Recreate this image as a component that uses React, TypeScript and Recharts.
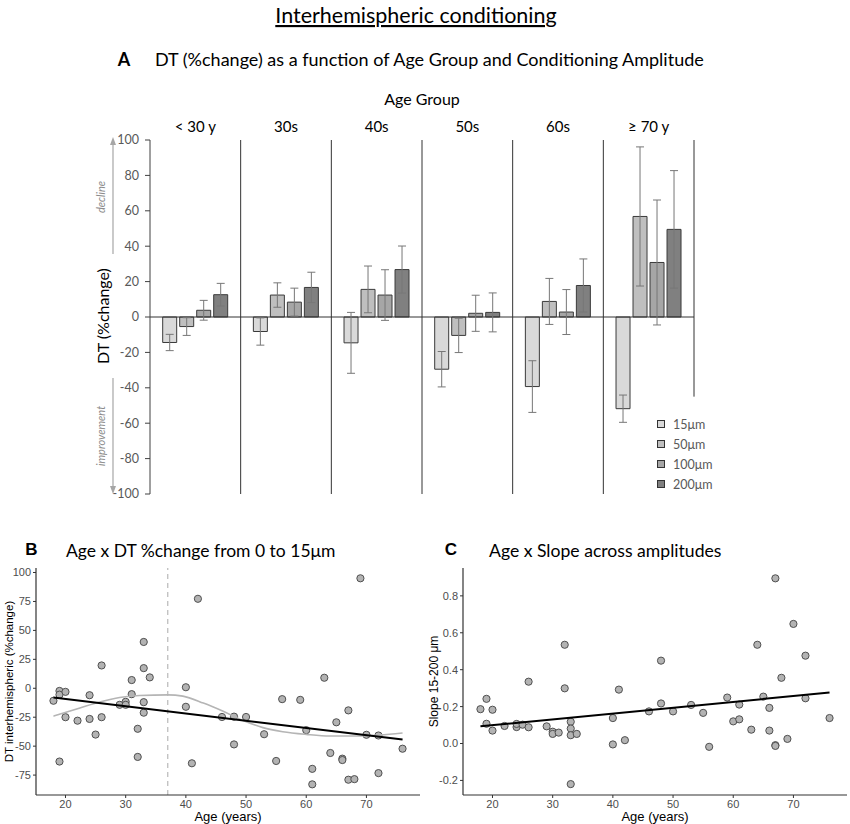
import React from 'react';
import {
  BarChart, Bar, ErrorBar, XAxis, YAxis, ReferenceLine, Legend,
  ScatterChart, Scatter,
} from 'recharts';

// ---------- Panel A data ----------
const ageGroups = ['< 30 y', '30s', '40s', '50s', '60s', '≥ 70 y'];
const amp15 = [-14.4, -8.2, -14.6, -29.5, -39.3, -51.8];
const err15 = [4.6, 7.7, 17.2, 10.0, 14.6, 7.7];
const amp50 = [-5.4, 12.4, 15.6, -10.4, 8.8, 56.8];
const err50 = [5.0, 6.9, 13.2, 9.7, 13.0, 39.3];
const amp100 = [3.8, 8.4, 12.4, 2.1, 2.8, 30.8];
const err100 = [5.6, 7.9, 14.3, 10.2, 12.7, 35.3];
const amp200 = [12.6, 16.7, 26.8, 2.6, 17.8, 49.5];
const err200 = [6.4, 8.6, 13.3, 11.0, 15.0, 33.2];
const ampNames = ['15μm', '50μm', '100μm', '200μm'];
const yTicksA = [-100, -80, -60, -40, -20, 0, 20, 40, 60, 80, 100];

// ---------- Panel B data ----------
const agesB = [18, 19, 19, 20, 20, 22, 24, 24, 25, 26, 26, 19, 29, 30, 30, 31, 31, 32, 32, 33, 33, 33, 33, 34,
  40, 40, 41, 42, 46, 48, 48, 50, 53, 55, 56, 59, 60, 61, 61, 63, 64, 65, 66, 66, 67, 67, 68, 69, 70, 72, 72, 76];
const dtB = [-10.8, -2.3, -5.5, -3.1, -25, -28, -6, -26.5, -40, 19.7, -25, -63.3, -14.3, -11.7, -14.3, 7.1, -5.1,
  -35, -59.3, 40, 17.4, -12, -21.1, 9.4, 0.9, -16, -64.8, 77.3, -24.8, -24.5, -48.5, -24.8, -39.7, -62.8, -9.4, -10,
  -36.2, -69.6, -83, 9.1, -55.9, -29.4, -60.8, -62, -19.1, -79, -78.5, 95, -40.2, -40.8, -73.3, -52.2];
const regAges = [18, 76];
const regB = [-8.0, -44.3];
const loessAges = [18, 22.4, 25.7, 29, 32.3, 37, 39.5, 42.9, 46.2, 49.5, 52.8, 56.1, 60, 63.9, 68.3, 72.2, 76];
const loessB = [-24.1, -17, -11.9, -8, -6.25, -5.7, -6.8, -12.8, -19.9, -27.8, -34, -37.5, -39.8, -41.2, -41.2, -40.3, -38.6];
const xTicks = [20, 30, 40, 50, 60, 70];
const yTicksB = [-75, -50, -25, 0, 25, 50, 75, 100];

// ---------- Panel C data ----------
const agesC = [18, 19, 19, 20, 20, 22, 24, 24, 25, 26, 26, 29, 30, 30, 31, 32, 32, 33, 33, 33, 33, 34, 40, 40, 41,
  42, 46, 48, 48, 50, 53, 55, 56, 59, 60, 61, 61, 63, 64, 65, 66, 66, 67, 67, 67, 68, 69, 70, 72, 72, 76];
const slopeC = [0.186, 0.242, 0.107, 0.183, 0.07, 0.095, 0.089, 0.106, 0.102, 0.335, 0.088, 0.093, 0.064, 0.052,
  0.059, 0.535, 0.299, 0.118, 0.081, 0.045, -0.22, 0.052, 0.138, -0.005, 0.292, 0.018, 0.174, 0.449, 0.217, 0.174,
  0.209, 0.166, -0.018, 0.249, 0.12, 0.211, 0.131, 0.075, 0.535, 0.254, 0.193, 0.07, 0.895, -0.009, -0.013, 0.356,
  0.025, 0.648, 0.476, 0.245, 0.138];
const regC = [0.093, 0.276];
const yTicksC = [-0.2, 0, 0.2, 0.4, 0.6, 0.8];

// ---------- built tables ----------
const dataA = ageGroups.map((g, i) => ({
  group: g,
  v15: amp15[i], e15: err15[i],
  v50: amp50[i], e50: err50[i],
  v100: amp100[i], e100: err100[i],
  v200: amp200[i], e200: err200[i],
}));
const ptsB = agesB.map((a, i) => ({ age: a, v: dtB[i] }));
const lineB = regAges.map((a, i) => ({ age: a, v: regB[i] }));
const smoothB = loessAges.map((a, i) => ({ age: a, v: loessB[i] }));
const ptsC = agesC.map((a, i) => ({ age: a, v: slopeC[i] }));
const lineC = regAges.map((a, i) => ({ age: a, v: regC[i] }));

const CAL = "Lato, 'Open Sans', sans-serif";
const ARI = "'Liberation Sans', Arial, sans-serif";
const barFills = ['#d9d9d9', '#bfbfbf', '#a6a6a6', '#808080'];

const Dot = (p: any) => (
  <circle cx={p.cx} cy={p.cy} r={3.6} fill="#b3b3b3" stroke="#505050" strokeWidth={1} />
);
const NoShape = () => <g />;

const renderLegend = (props: any) => {
  const payload = [...(props.payload || [])].sort(
    (a: any, b: any) => ampNames.indexOf(a.value) - ampNames.indexOf(b.value)
  );
  return (
    <div style={{ fontFamily: CAL }}>
      {payload.map((p: any) => (
        <div key={p.value} style={{ display: 'flex', alignItems: 'center', height: 20 }}>
          <span style={{ display: 'inline-block', width: 6, height: 6, background: barFills[ampNames.indexOf(p.value)], border: '1px solid #333', marginRight: 8 }} />
          <span style={{ fontSize: 12.5, color: '#595959' }}>{p.value}</span>
        </div>
      ))}
    </div>
  );
};

const ggTick = { fill: '#4d4d4d', fontSize: 11, fontFamily: ARI };

export default function App() {
  return (
    <div style={{ position: 'absolute', left: 0, top: 0, width: 850, height: 824, background: '#fff', overflow: 'hidden' }}>
      {/* Panel A */}
      <div style={{ position: 'absolute', left: 0, top: 0 }}>
        <BarChart width={850} height={520} data={dataA} margin={{ top: 90, right: 156, bottom: 26, left: 90 }}
          barCategoryGap="14%" barGap={3}>
          <XAxis dataKey="group" orientation="top" axisLine={false} tickLine={false} height={50}
            tick={{ fill: '#000', fontSize: 15, fontFamily: CAL }}
            label={{ value: 'Age Group', position: 'insideTop', offset: 4, style: { fill: '#000', fontSize: 16, fontFamily: CAL } }} />
          <YAxis domain={[-100, 100]} ticks={yTicksA} width={60} tickSize={5} tickMargin={6}
            axisLine={{ stroke: '#404040' }} tickLine={{ stroke: '#404040' }}
            tick={{ fill: '#595959', fontSize: 12.5, fontFamily: CAL }} interval={0} />
          {ageGroups.slice(1).map((g) => (
            <ReferenceLine key={g} x={g} position="start" stroke="#333" strokeWidth={1} />
          ))}
          <ReferenceLine segment={[{ x: ageGroups[5], y: 100 }, { x: ageGroups[5], y: -45 }]} position="end" stroke="#333" strokeWidth={1} />
          <ReferenceLine y={0} stroke="#333" strokeWidth={1} />
          <Bar dataKey="v15" name={ampNames[0]} fill={barFills[0]} stroke="#3a3a3a" strokeWidth={1} isAnimationActive={false}>
            <ErrorBar dataKey="e15" width={4} stroke="#777" strokeWidth={1} />
          </Bar>
          <Bar dataKey="v50" name={ampNames[1]} fill={barFills[1]} stroke="#3a3a3a" strokeWidth={1} isAnimationActive={false}>
            <ErrorBar dataKey="e50" width={4} stroke="#777" strokeWidth={1} />
          </Bar>
          <Bar dataKey="v100" name={ampNames[2]} fill={barFills[2]} stroke="#3a3a3a" strokeWidth={1} isAnimationActive={false}>
            <ErrorBar dataKey="e100" width={4} stroke="#777" strokeWidth={1} />
          </Bar>
          <Bar dataKey="v200" name={ampNames[3]} fill={barFills[3]} stroke="#3a3a3a" strokeWidth={1} isAnimationActive={false}>
            <ErrorBar dataKey="e200" width={4} stroke="#777" strokeWidth={1} />
          </Bar>
          <Legend layout="vertical" align="center" verticalAlign="middle" content={renderLegend}
            wrapperStyle={{ left: 657, top: 414, width: 90 }} />
        </BarChart>
      </div>

      {/* Panel B */}
      <div style={{ position: 'absolute', left: 0, top: 540 }}>
        <ScatterChart width={430} height={284} margin={{ top: 28, right: 10, bottom: 0, left: 0 }}>
          <XAxis type="number" dataKey="age" domain={[15.1, 78.9]} ticks={xTicks} allowDataOverflow
            height={29} tickSize={3} tickMargin={2} axisLine={{ stroke: '#333', strokeWidth: 1.2 }} tickLine={{ stroke: '#333' }}
            tick={ggTick}
            label={{ value: 'Age (years)', position: 'insideBottom', offset: 3, style: { fill: '#000', fontSize: 13, fontFamily: ARI } }} />
          <YAxis type="number" dataKey="v" domain={[-92.2, 103.9]} ticks={yTicksB} allowDataOverflow interval={0}
            width={36} tickSize={3} tickMargin={2} axisLine={{ stroke: '#333', strokeWidth: 1.2 }} tickLine={{ stroke: '#333' }}
            tick={ggTick}
            label={{ value: 'DT interhemispheric (%change)', angle: -90, position: 'insideLeft', offset: 9,
              style: { textAnchor: 'middle', fill: '#000', fontSize: 11.5, fontFamily: ARI } }} />
          <ReferenceLine x={37} stroke="#aaaaaa" strokeDasharray="5 4" strokeWidth={1} />
          <Scatter data={ptsB} shape={Dot} isAnimationActive={false} />
          <Scatter data={smoothB} shape={NoShape} line={{ stroke: '#b5b5b5', strokeWidth: 1.6 }} lineJointType="monotoneX" isAnimationActive={false} />
          <Scatter data={lineB} shape={NoShape} line={{ stroke: '#000', strokeWidth: 2 }} isAnimationActive={false} />
        </ScatterChart>
      </div>

      {/* Panel C */}
      <div style={{ position: 'absolute', left: 420, top: 540 }}>
        <ScatterChart width={430} height={284} margin={{ top: 28, right: 3, bottom: 0, left: 0 }}>
          <XAxis type="number" dataKey="age" domain={[15.1, 78.9]} ticks={xTicks} allowDataOverflow
            height={29} tickSize={3} tickMargin={2} axisLine={{ stroke: '#333', strokeWidth: 1.2 }} tickLine={{ stroke: '#333' }}
            tick={ggTick}
            label={{ value: 'Age (years)', position: 'insideBottom', offset: 3, style: { fill: '#000', fontSize: 13, fontFamily: ARI } }} />
          <YAxis type="number" dataKey="v" domain={[-0.279, 0.951]} ticks={yTicksC} allowDataOverflow interval={0}
            width={43} tickSize={3} tickMargin={2} axisLine={{ stroke: '#333', strokeWidth: 1.2 }} tickLine={{ stroke: '#333' }}
            tick={ggTick} tickFormatter={(v: number) => v.toFixed(1)}
            label={{ value: 'Slope 15-200 μm', angle: -90, position: 'insideLeft', offset: 14,
              style: { textAnchor: 'middle', fill: '#000', fontSize: 12, fontFamily: ARI } }} />
          <Scatter data={ptsC} shape={Dot} isAnimationActive={false} />
          <Scatter data={lineC} shape={NoShape} line={{ stroke: '#000', strokeWidth: 2 }} isAnimationActive={false} />
        </ScatterChart>
      </div>

      {/* Titles and annotations */}
      <svg width={850} height={824} style={{ position: 'absolute', left: 0, top: 0, pointerEvents: 'none' }}>
        <text x={416} y={23} textAnchor="middle" fontFamily={CAL} fontSize={21.5} fill="#000"
          style={{ textDecoration: 'underline' }}>Interhemispheric conditioning</text>
        <text x={124} y={66} textAnchor="middle" fontFamily={CAL} fontSize={18} fontWeight="bold" fill="#000">A</text>
        <text x={155} y={66} fontFamily={CAL} fontSize={18} fill="#000">DT (%change) as a function of Age Group and Conditioning Amplitude</text>

        <text x={109} y={316} transform="rotate(-90 109 316)" textAnchor="middle" fontFamily={CAL} fontSize={16} fill="#000">DT (%change)</text>

        <line x1={113} y1={254} x2={113} y2={143} stroke="#a6a6a6" strokeWidth={1.2} />
        <polygon points="110,145 116,145 113,137" fill="#a6a6a6" />
        <text x={105} y={197} transform="rotate(-90 105 197)" textAnchor="middle" fontFamily={CAL} fontSize={11}
          fontStyle="italic" fill="#8c8c8c">decline</text>
        <line x1={113} y1={378} x2={113} y2={488} stroke="#a6a6a6" strokeWidth={1.2} />
        <polygon points="110,486 116,486 113,494" fill="#a6a6a6" />
        <text x={105} y={436} transform="rotate(-90 105 436)" textAnchor="middle" fontFamily={CAL} fontSize={11}
          fontStyle="italic" fill="#8c8c8c">improvement</text>

        <text x={31.5} y={555} textAnchor="middle" fontFamily={ARI} fontSize={17} fontWeight="bold" fill="#000">B</text>
        <text x={66} y={557} fontFamily={CAL} fontSize={17.5} fill="#000">Age x DT %change from 0 to 15μm</text>
        <text x={451} y={555} textAnchor="middle" fontFamily={ARI} fontSize={17} fontWeight="bold" fill="#000">C</text>
        <text x={489} y={557} fontFamily={CAL} fontSize={17.6} fill="#000">Age x Slope across amplitudes</text>
      </svg>
    </div>
  );
}
